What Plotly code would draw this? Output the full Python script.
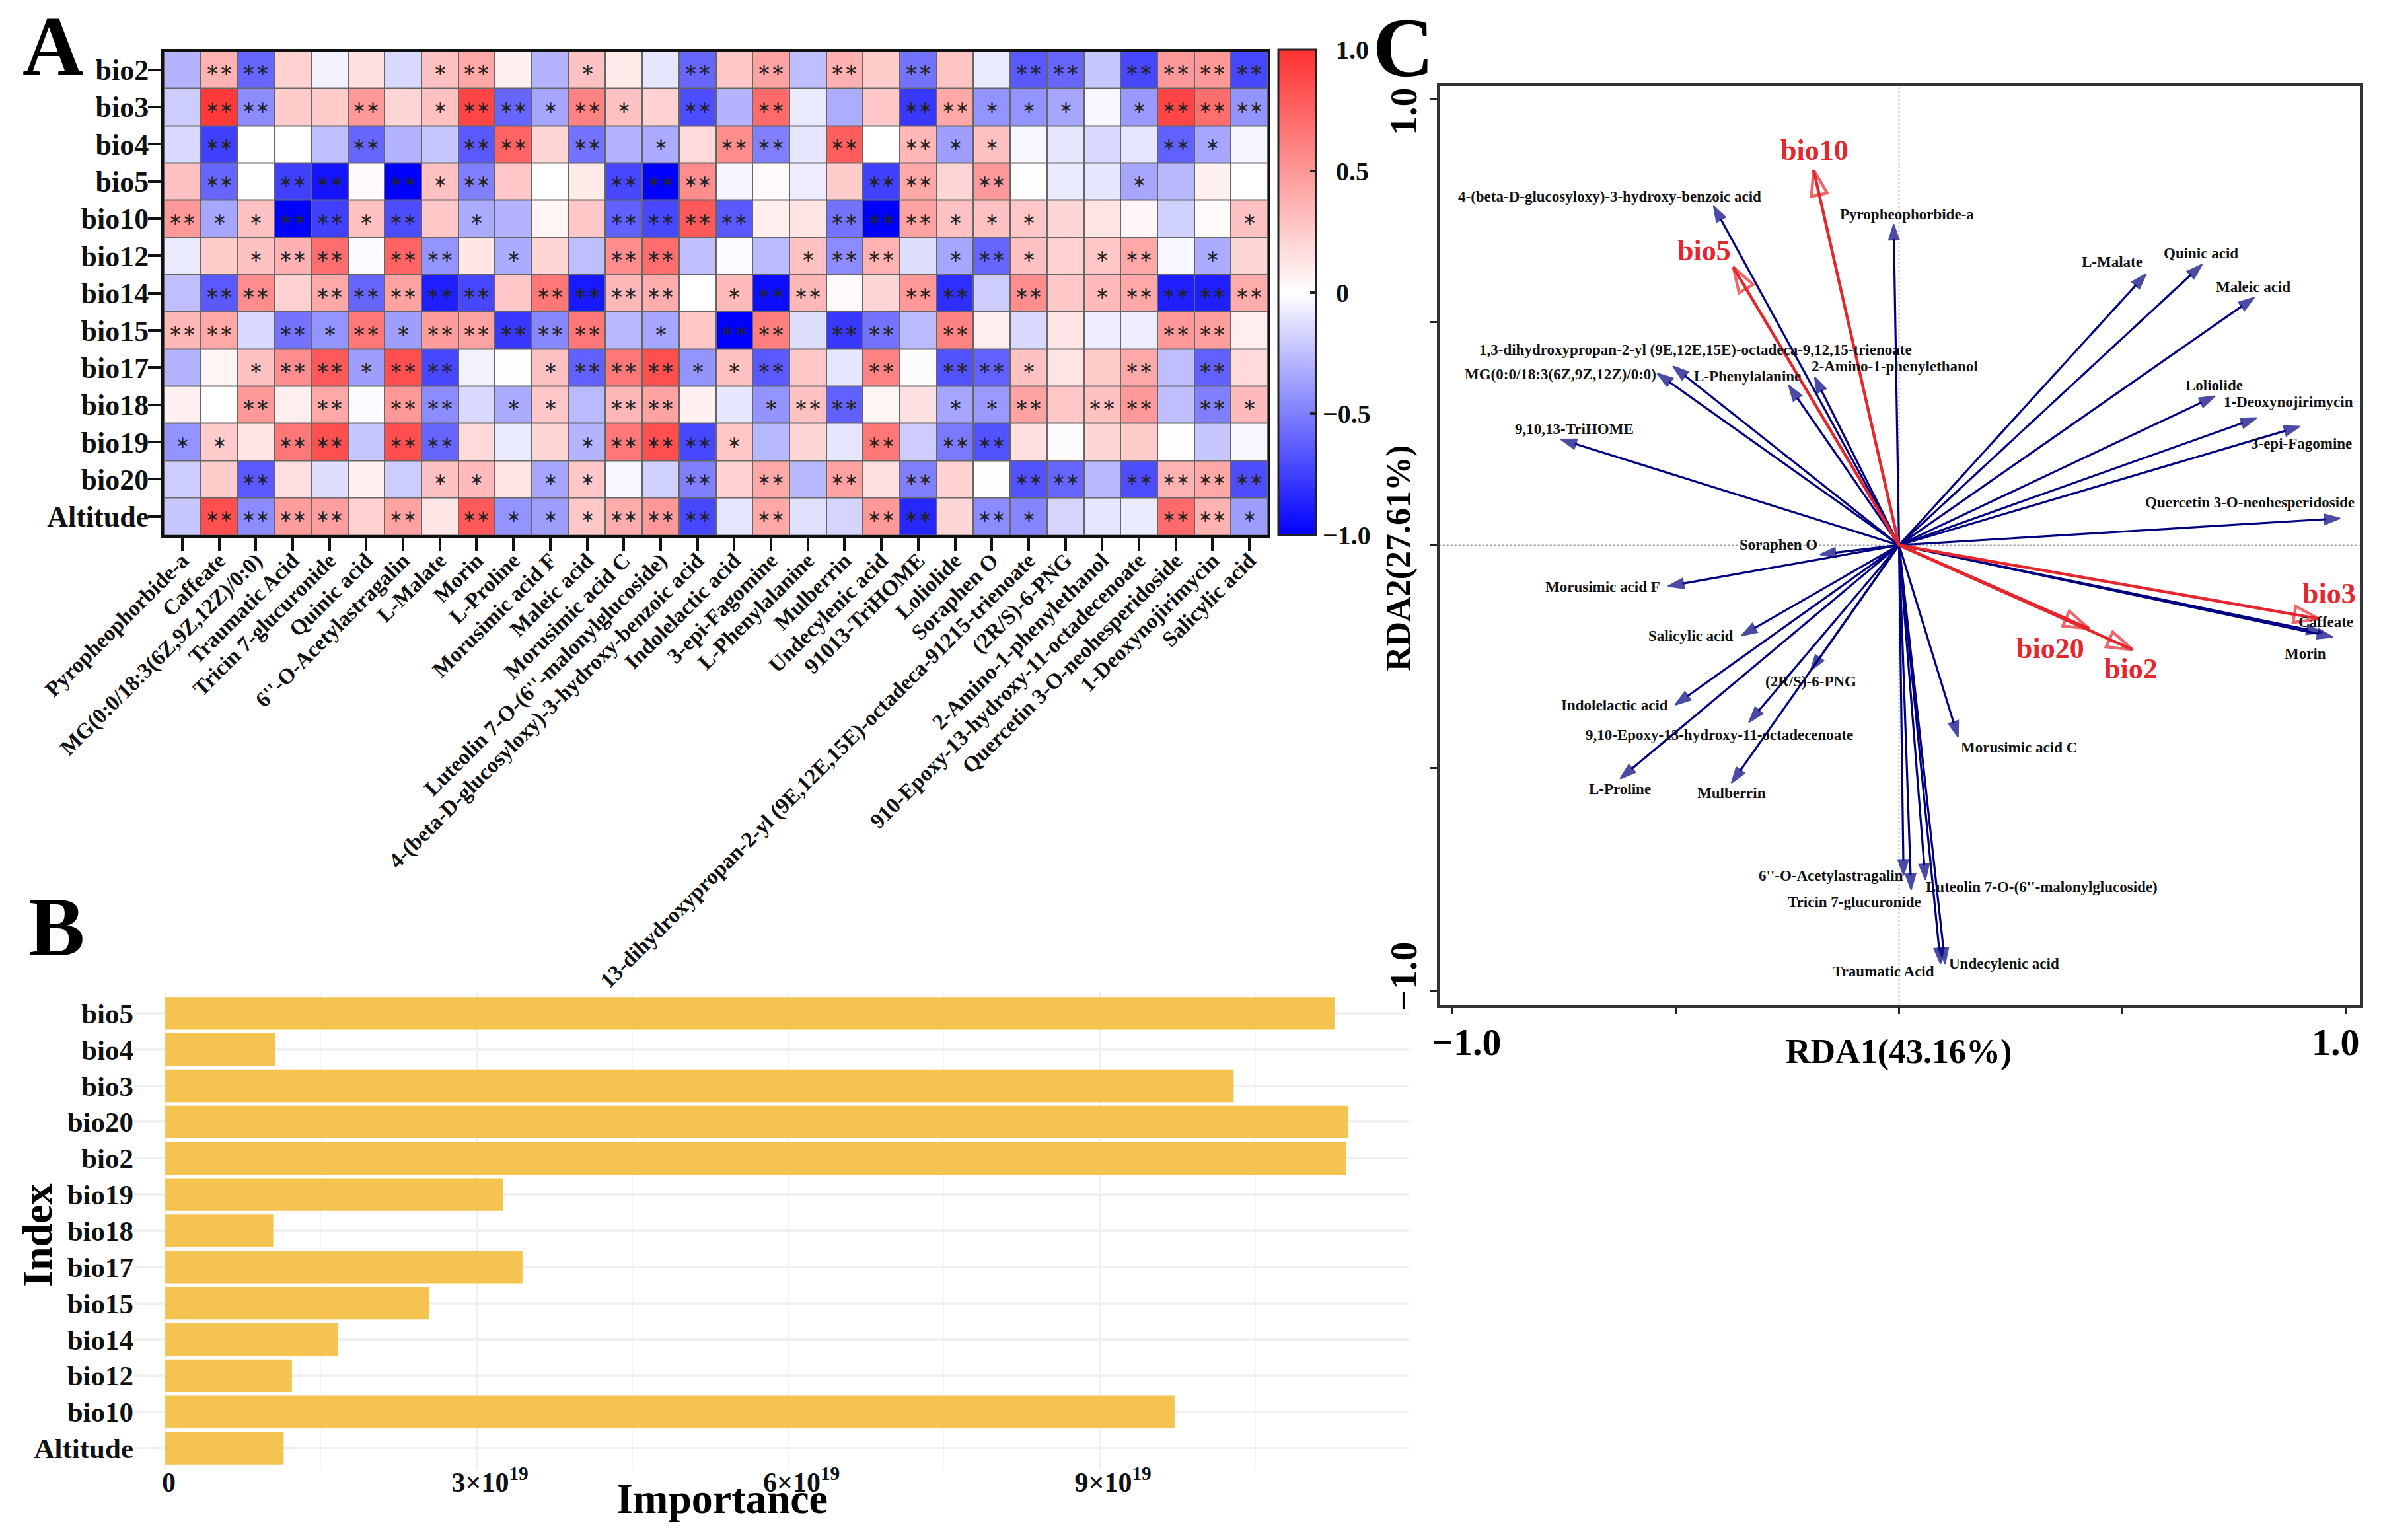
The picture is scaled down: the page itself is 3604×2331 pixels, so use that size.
import plotly.graph_objects as go

W, H = 3604, 2331
SERIF = "Liberation Serif"

# ---------- Panel A data ----------
rows_a = ["bio2", "bio3", "bio4", "bio5", "bio10", "bio12", "bio14", "bio15", "bio17", "bio18", "bio19", "bio20", "Altitude"]
cols_a = ["Pyropheophorbide-a", "Caffeate", "MG(0:0/18:3(6Z,9Z,12Z)/0:0)", "Traumatic Acid", "Tricin 7-glucuronide",
          "Quinic acid", "6''-O-Acetylastragalin", "L-Malate", "Morin", "L-Proline", "Morusimic acid F", "Maleic acid",
          "Morusimic acid C", "Luteolin 7-O-(6''-malonylglucoside)", "4-(beta-D-glucosyloxy)-3-hydroxy-benzoic acid",
          "Indolelactic acid", "3-epi-Fagomine", "L-Phenylalanine", "Mulberrin", "Undecylenic acid", "91013-TriHOME",
          "Loliolide", "Soraphen O", "13-dihydroxypropan-2-yl (9E,12E,15E)-octadeca-91215-trienoate", "(2R/S)-6-PNG",
          "2-Amino-1-phenylethanol", "910-Epoxy-13-hydroxy-11-octadecenoate", "Quercetin 3-O-neohesperidoside",
          "1-Deoxynojirimycin", "Salicylic acid"]
v_bio2 = [-.3, .37, -.6, .22, -.05, .15, -.15, .3, .42, .07, -.3, .3, .1, -.1, -.6, .27, .45, -.25, .38, .25, -.55, .28, -.08, -.65, -.6, -.22, -.72, .5, .5, -.72]
v_bio3 = [-.2, .95, -.45, .25, .25, .5, .2, .3, .9, -.6, -.35, .6, .3, .22, -.7, -.3, .72, -.08, -.32, .27, -.78, .42, -.42, -.42, -.35, -.03, -.4, .9, .7, -.42]
v_bio4 = [-.15, -.75, 0, 0, -.25, -.6, -.3, -.22, -.65, .75, .2, -.55, -.3, -.33, .18, .55, -.5, -.1, .78, 0, .35, -.38, .3, -.03, -.1, -.15, -.1, -.62, -.35, -.04]
v_bio5 = [.3, -.6, 0, -.75, -.92, .02, -1, .3, -.5, .27, 0, .1, -.72, -1, .55, -.04, .02, -.07, .25, -.75, .42, .2, .5, .01, -.08, -.1, -.35, -.28, .07, 0]
v_bio10 = [.5, -.35, .3, -1, -.75, .3, -.7, .27, -.33, -.3, .05, .27, -.62, -.72, .8, -.65, .08, .13, -.55, -1, .45, .3, .3, .27, .2, .13, .04, -.18, .02, .3]
v_bio12 = [-.08, .25, .3, .38, .7, -.02, .75, -.42, .12, -.33, .2, -.25, .55, .7, -.25, -.02, -.27, .3, -.45, .37, -.13, -.35, -.6, .3, .22, .27, .42, -.03, -.33, .2]
v_bio14 = [-.25, -.65, .55, .22, .42, -.6, .45, -.88, -.72, .27, .65, -.9, .35, .4, 0, .33, -.95, .35, .02, .2, .5, -.82, -.2, .55, .27, .33, .42, -.88, -.88, .4]
v_bio15 = [.35, .42, -.15, -.55, -.42, .65, -.38, .48, .45, -.78, -.47, .65, -.28, -.35, .27, -1, .62, -.13, -.78, -.55, -.27, .6, .08, -.15, .12, -.07, -.07, .5, .47, .08]
v_bio17 = [-.3, .05, .3, .55, .8, -.38, .85, -.72, -.05, .01, .3, -.62, .65, .85, -.42, .3, -.65, .27, -.1, .6, -.01, -.68, -.62, .3, .13, .25, .42, -.25, -.62, .18]
v_bio18 = [.07, 0, .5, .08, .42, -.02, .5, -.45, -.15, -.33, .27, -.27, .35, .45, .07, -.1, -.42, .3, -.62, .05, .15, -.35, -.4, .45, .27, .3, .5, -.25, -.5, .33]
v_bio19 = [-.42, .25, .12, .65, .85, -.22, .85, -.6, .18, -.08, .2, -.3, .65, .85, -.72, .27, -.28, .2, -.1, .65, -.2, -.52, -.68, .15, -.01, .2, .25, .01, -.22, -.03]
v_bio20 = [-.2, .25, -.65, .15, -.13, .07, -.2, .3, .33, .13, -.35, .27, -.03, -.18, -.5, .22, .42, -.28, .45, .15, -.5, .22, .01, -.68, -.6, -.28, -.7, .37, .42, -.7]
v_alt = [-.22, .85, -.45, .48, .47, .22, .45, .12, .8, -.42, -.38, .27, .4, .5, -.72, -.1, .42, -.12, -.17, .5, -.85, .2, -.45, -.48, -.17, -.1, -.08, .72, .37, -.38]
heat_values = [v_bio2, v_bio3, v_bio4, v_bio5, v_bio10, v_bio12, v_bio14, v_bio15, v_bio17, v_bio18, v_bio19, v_bio20, v_alt]

s_bio2 = [0,2,2,0,0,0,0,1,2,0,0,1,0,0,2, 0,2,0,2,0,2,0,0,2,2,0,2,2,2,2]
s_bio3 = [0,2,2,0,0,2,0,1,2,2,1,2,1,0,2, 0,2,0,0,0,2,2,1,1,1,0,1,2,2,2]
s_bio4 = [0,2,0,0,0,2,0,0,2,2,0,2,0,1,0, 2,2,0,2,0,2,1,1,0,0,0,0,2,1,0]
s_bio5 = [0,2,0,2,2,0,2,1,2,0,0,0,2,2,2, 0,0,0,0,2,2,0,2,0,0,0,1,0,0,0]
s_bio10 = [2,1,1,2,2,1,2,0,1,0,0,0,2,2,2, 2,0,0,2,2,2,1,1,1,0,0,0,0,0,1]
s_bio12 = [0,0,1,2,2,0,2,2,0,1,0,0,2,2,0, 0,0,1,2,2,0,1,2,1,0,1,2,0,1,0]
s_bio14 = [0,2,2,0,2,2,2,2,2,0,2,2,2,2,0, 1,2,2,0,0,2,2,0,2,0,1,2,2,2,2]
s_bio15 = [2,2,0,2,1,2,1,2,2,2,2,2,0,1,0, 2,2,0,2,2,0,2,0,0,0,0,0,2,2,0]
s_bio17 = [0,0,1,2,2,1,2,2,0,0,1,2,2,2,1, 1,2,0,0,2,0,2,2,1,0,0,2,0,2,0]
s_bio18 = [0,0,2,0,2,0,2,2,0,1,1,0,2,2,0, 0,1,2,2,0,0,1,1,2,0,2,2,0,2,1]
s_bio19 = [1,1,0,2,2,0,2,2,0,0,0,1,2,2,2, 1,0,0,0,2,0,2,2,0,0,0,0,0,0,0]
s_bio20 = [0,0,2,0,0,0,0,1,1,0,1,1,0,0,2, 0,2,0,2,0,2,0,0,2,2,0,2,2,2,2]
s_alt = [0,2,2,2,2,0,2,0,2,1,1,1,2,2,2, 0,2,0,0,2,2,0,2,1,0,0,0,2,2,1]
star_counts = [s_bio2, s_bio3, s_bio4, s_bio5, s_bio10, s_bio12, s_bio14, s_bio15, s_bio17, s_bio18, s_bio19, s_bio20, s_alt]
star_marks = ["", "\u2217", "\u2217\u2217"]

cbar_vals = [1.0, 0.5, 0, -0.5, -1.0]
cbar_text = ["\u20021.0", "\u20020.5", "\u20020", "\u22120.5", "\u22121.0"]

# ---------- Panel B data (Importance, units of 1e19) ----------
cats_b = ["Altitude", "bio10", "bio12", "bio14", "bio15", "bio17", "bio18", "bio19", "bio2", "bio20", "bio3", "bio4", "bio5"]
importance_e19 = [1.14, 9.72, 1.22, 1.665, 2.54, 3.44, 1.04, 3.25, 11.37, 11.39, 10.29, 1.06, 11.26]
b_ticks_e19 = [0, 3, 6, 9]
b_minor_e19 = [1.5, 4.5, 7.5, 10.5]
b_tick_text = ["0\u2002\u2009", "3\u00d710<sup>19</sup>", "6\u00d710<sup>19</sup>", "9\u00d710<sup>19</sup>"]

# ---------- Panel C data ----------
navy_names = ["4-(beta-D-glucosyloxy)-3-hydroxy-benzoic acid", "MG(0:0/18:3(6Z,9Z,12Z)/0:0)",
              "1,3-dihydroxypropan-2-yl (9E,12E,15E)-octadeca-9,12,15-trienoate", "9,10,13-TriHOME", "L-Phenylalanine",
              "2-Amino-1-phenylethanol", "Pyropheophorbide-a", "L-Malate", "Quinic acid", "Maleic acid", "Loliolide",
              "1-Deoxynojirimycin", "3-epi-Fagomine", "Quercetin 3-O-neohesperidoside", "Soraphen O", "Morusimic acid F",
              "Salicylic acid", "Indolelactic acid", "(2R/S)-6-PNG", "9,10-Epoxy-13-hydroxy-11-octadecenoate", "L-Proline",
              "Mulberrin", "Morusimic acid C", "6''-O-Acetylastragalin", "Tricin 7-glucuronide",
              "Luteolin 7-O-(6''-malonylglucoside)", "Traumatic Acid", "Undecylenic acid", "Morin", "Caffeate"]
navy_x = [-.415, -.541, -.506, -.757, -.247, -.189, -.012, .553, .678, .795, .707, .80, .897, .987, -.177, -.517, -.353, -.501, -.198, -.336, -.624, -.375, .132, .01, .027, .059, .093, .103, .971, .947]
navy_y = [.76, .385, .401, .237, .358, .377, .719, .608, .629, .555, .334, .285, .266, .06, -.021, -.092, -.203, -.358, -.281, -.397, -.523, -.533, -.43, -.74, -.772, -.75, -.938, -.938, -.206, -.196]
navy_lx = [-.647, -.758, -.455, -.726, -.339, -.009, .018, .476, .675, .792, .705, .871, .90, .785, -.27, -.663, -.466, -.637, -.197, -.402, -.624, -.375, .268, -.152, -.1, .32, -.035, .235, .909, .955]
navy_ly = [.781, .383, .437, .26, .379, .401, .741, .634, .654, .579, .357, .32, .228, .096, .001, -.094, -.203, -.358, -.306, -.425, -.546, -.555, -.453, -.74, -.80, -.766, -.955, -.938, -.243, -.172]

red_names = ["bio10", "bio5", "bio3", "bio20", "bio2"]
red_x = [-.191, -.371, .94, .425, .522]
red_y = [.84, .623, -.165, -.187, -.234]
red_lx = [-.189, -.436, .962, .339, .519]
red_ly = [.884, .66, -.109, -.232, -.278]
c_ticks = [-1, -.5, 0, .5, 1]

NAVY = "#000080"
RED = "#E5262C"
DARK = "#111111"


def dx(a, b):
    return [a / W, b / W]


def dy(top, bottom):
    return [1 - bottom / H, 1 - top / H]


fig = go.Figure()

# Panel A
fig.add_trace(go.Heatmap(
    z=heat_values, x=cols_a, y=rows_a, zmin=-1, zmax=1, xaxis="x", yaxis="y",
    colorscale=[[0, "#0000ff"], [0.5, "#ffffff"], [1, "#ff3030"]],
    xgap=2, ygap=2,
    text=[[star_marks[n] for n in r] for r in star_counts], texttemplate="%{text}",
    textfont=dict(family=SERIF, size=25, color="#222222"),
    colorbar=dict(x=1935 / W, xanchor="left", xpad=0, ypad=0, y=1 - 810 / H, yanchor="bottom", len=(810 - 75) / H,
                  thickness=57, thicknessmode="pixels", outlinewidth=3, outlinecolor="#222222",
                  tickvals=cbar_vals, ticktext=cbar_text, ticks="inside", ticklen=10, tickwidth=4, tickcolor="#222222",
                  tickfont=dict(family=SERIF, size=40, color=DARK, weight="bold")),
    hoverongaps=False,
))

# Panel B
fig.add_trace(go.Bar(
    x=[v * 1e19 for v in importance_e19], y=cats_b, orientation="h", xaxis="x2", yaxis="y2",
    marker=dict(color="#F5C34F", line=dict(width=0)), width=0.9,
))

# Panel C
for nm, tx, ty in zip(navy_names, navy_x, navy_y):
    fig.add_trace(go.Scatter(
        x=[0, tx], y=[0, ty], xaxis="x3", yaxis="y3", mode="lines+markers", name=nm,
        line=dict(color=NAVY, width=3.2),
        marker=dict(symbol="arrow", size=[0, 25], angleref="previous", color=NAVY, line=dict(width=2, color=NAVY)),
    ))
for nm, tx, ty in zip(red_names, red_x, red_y):
    fig.add_trace(go.Scatter(
        x=[0, tx], y=[0, ty], xaxis="x3", yaxis="y3", mode="lines+markers", name=nm,
        line=dict(color=RED, width=4.5),
        marker=dict(symbol="arrow-open", size=[0, 40], angleref="previous", color=RED, line=dict(width=4.5, color=RED)),
    ))

anns = []
for nm, lx, ly in zip(navy_names, navy_lx, navy_ly):
    anns.append(dict(x=lx, y=ly, xref="x3", yref="y3", text=nm, showarrow=False,
                     font=dict(family=SERIF, size=23, color=DARK, weight="bold")))
for nm, lx, ly in zip(red_names, red_lx, red_ly):
    anns.append(dict(x=lx, y=ly, xref="x3", yref="y3", text=nm, showarrow=False,
                     font=dict(family=SERIF, size=44, color=RED, weight="bold")))


def paper_text(txt, px, py, size, angle=0):
    anns.append(dict(x=px / W, y=1 - py / H, xref="paper", yref="paper", text=txt, showarrow=False, textangle=angle,
                     xanchor="center", yanchor="middle",
                     font=dict(family=SERIF, size=size, color="#000000", weight="bold")))


paper_text("A", 80, 70, 128)
paper_text("B", 85, 1403, 128)
paper_text("C", 2124, 72, 128)
paper_text("Importance", 1093, 2268, 64)
paper_text("Index", 56, 1870, 64, -90)
paper_text("RDA1(43.16%)", 2874, 1592, 52)
paper_text("RDA2(27.61%)", 2117, 845, 52, -90)
paper_text("\u22121.0", 2220, 1577, 58)
paper_text("1.0", 3535, 1577, 58)
paper_text("1.0", 2124, 169, 58, -90)
paper_text("\u22121.0", 2124, 1478, 58, -90)

shapes = [
    dict(type="rect", xref="x domain", yref="y domain", x0=0, x1=1, y0=0, y1=1, fillcolor="#666666",
         line=dict(width=0), layer="below"),
    dict(type="line", xref="x3", yref="y3", x0=-1.03, x1=1.03, y0=0, y1=0, line=dict(color="#999999", width=1.5, dash="dot"), layer="below"),
    dict(type="line", xref="x3", yref="y3", x0=0, x1=0, y0=-1.03, y1=1.03, line=dict(color="#777777", width=1.5, dash="dot"), layer="below"),
    dict(type="rect", xref="paper", yref="paper", x0=2049 / W, x1=2140 / W, y0=1 - 1668 / H, y1=1 - 1495 / H,
         fillcolor="#ffffff", line=dict(width=0), layer="between"),
]
# left-hand companions of the colour bar's inside ticks
for v in cbar_vals[1:-1]:
    ty = 1 - (442 - v * 366.5) / H
    shapes.append(dict(type="line", xref="paper", yref="paper", x0=1935 / W, x1=1945 / W, y0=ty, y1=ty,
                       line=dict(color="#222222", width=4), layer="above"))

fig.update_layout(
    width=W, height=H, margin=dict(l=0, r=0, t=0, b=0), paper_bgcolor="#ffffff", plot_bgcolor="rgba(0,0,0,0)",
    showlegend=False, annotations=anns, shapes=shapes, bargap=0.1,
    font=dict(family=SERIF, color=DARK),
    # A
    xaxis=dict(domain=dx(248, 1919), anchor="y", type="category", categoryorder="array", categoryarray=cols_a,
               tickangle=-45, ticks="outside", ticklen=20, tickwidth=4, tickcolor=DARK, showline=True, mirror=True,
               linewidth=4, linecolor=DARK, showgrid=False, zeroline=False, automargin=False, tickmode="array",
               tickvals=cols_a, ticktext=cols_a, ticklabelstandoff=-18,
               tickfont=dict(family=SERIF, size=33, color=DARK, weight="bold")),
    yaxis=dict(domain=dy(77.5, 810), anchor="x", type="category", categoryorder="array", categoryarray=rows_a,
               autorange="reversed", ticks="outside", ticklen=20, tickwidth=4, tickcolor=DARK, showline=True, mirror=True,
               linewidth=4, linecolor=DARK, showgrid=False, zeroline=False, automargin=False, ticklabelstandoff=-10,
               tickfont=dict(family=SERIF, size=44, color=DARK, weight="bold")),
    # B
    xaxis2=dict(domain=dx(203, 2133), anchor="y2", range=[-0.30e19, 11.98e19], tickmode="array",
                tickvals=[v * 1e19 for v in b_ticks_e19], ticktext=b_tick_text, showgrid=True, gridcolor="#f0f0f0", gridwidth=2,
                minor=dict(tickvals=[v * 1e19 for v in b_minor_e19], showgrid=True, gridcolor="#f4f4f4", gridwidth=1),
                zeroline=False, showline=False, ticks="", automargin=False, ticklabelstandoff=-10, ticklabelshift=20,
                tickfont=dict(family=SERIF, size=42, color=DARK, weight="bold")),
    yaxis2=dict(domain=dy(1502, 2225), anchor="x2", type="category", categoryorder="array", categoryarray=cats_b,
                range=[-0.6, 12.58], showgrid=True, gridcolor="#f0f0f0", gridwidth=4, zeroline=False, showline=False,
                ticks="", automargin=False, tickfont=dict(family=SERIF, size=43, color=DARK, weight="bold")),
    # C
    xaxis3=dict(domain=dx(2179, 3572), anchor="y3", range=[-1.028, 1.031], tickmode="array", tickvals=c_ticks,
                showticklabels=False, ticks="outside", ticklen=10, tickwidth=3, tickcolor="#222222",
                showgrid=False, zeroline=False, showline=True, mirror=True, linewidth=4, linecolor="#333333", automargin=False),
    yaxis3=dict(domain=dy(130, 1521), anchor="x3", range=[-1.03, 1.029], tickmode="array", tickvals=c_ticks,
                showticklabels=False, ticks="outside", ticklen=10, tickwidth=3, tickcolor="#222222",
                showgrid=False, zeroline=False, showline=True, mirror=True, linewidth=4, linecolor="#333333", automargin=False),
)

fig.write_html("out.html", config={"displayModeBar": False},
               post_script="document.body.style.margin='0';document.body.style.overflow='hidden';")
